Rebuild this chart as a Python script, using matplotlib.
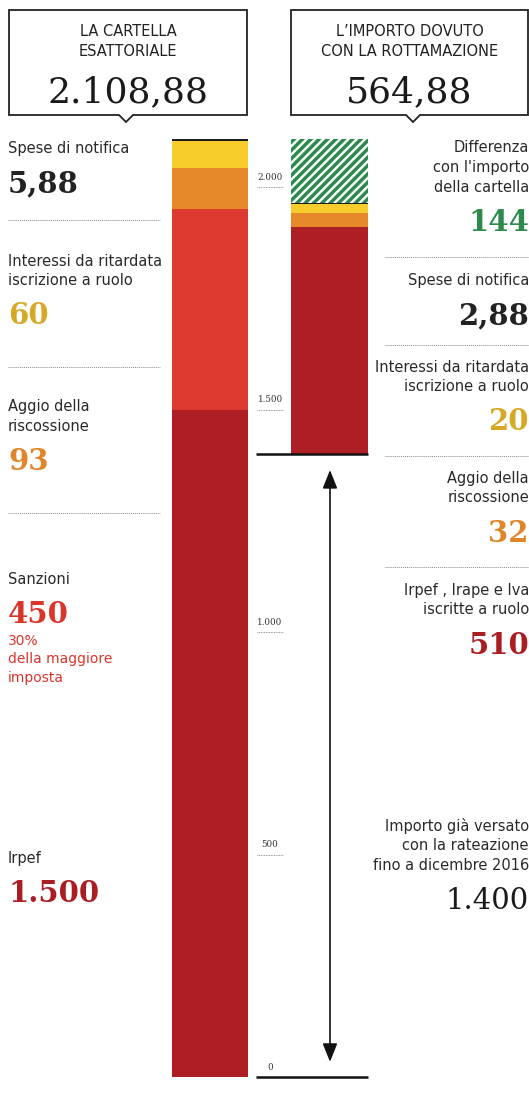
import matplotlib.pyplot as plt
from matplotlib.patches import Polygon

# La cartella esattoriale (dal basso verso l'alto)
cartella_labels = ["Irpef", "Sanzioni", "Aggio della\nriscossione",
                   "Interessi da ritardata\niscrizione a ruolo", "Spese di notifica"]
cartella_values = [1500, 450, 93, 60, 5.88]

# Rottamazione: importo gia versato + voci residue (dal basso verso l'alto)
gia_versato = 1400
rottamazione_labels = ["Irpef , Irape e Iva\niscritte a ruolo", "Aggio della\nriscossione",
                       "Interessi da ritardata\niscrizione a ruolo", "Spese di notifica"]
rottamazione_values = [510, 32, 20, 2.88]

tick_values = [0, 500, 1000, 1500, 2000]

seg_colors = ["#ad1f25", "#dc3a2e", "#e5892b", "#f8cd2b", "#1c1c1c"]
text_colors = ["#a91d23", "#d9352b", "#e0862a", "#d6a826", "#222222"]
green = "#2b8a4c"

totale_cartella = sum(cartella_values)
totale_rottamazione = sum(rottamazione_values)
differenza = totale_cartella - gia_versato - totale_rottamazione


def fmt_it(v):
    v = round(v, 2)
    if float(v).is_integer():
        return f"{int(v):,}".replace(",", ".")
    return f"{v:,.2f}".replace(",", "X").replace(".", ",").replace("X", ".")


SANS = ["DejaVu Sans"]
SERIF = ["DejaVu Serif"]
plt.rcParams["hatch.linewidth"] = 2.5

W, H = 529, 1097
fig = plt.figure(figsize=(W / 100, H / 100), dpi=100)

# bar area: zero at y=1077px, 0.445 px per euro
base_px = 1077
px_per_unit = 0.445
ax = fig.add_axes([150 / W, (H - base_px) / H, 240 / W, totale_cartella * px_per_unit / H])
ax.set_xlim(-0.502, 1.506)
ax.set_ylim(0, totale_cartella)
ax.axis("off")

bar_w = 0.64
bottom = 0
for v, c in zip(cartella_values, seg_colors):
    ax.bar(0, v, bottom=bottom, width=bar_w, color=c, linewidth=0)
    bottom += v

bottom = gia_versato
for v, c in zip(rottamazione_values, seg_colors[:1] + seg_colors[2:]):
    ax.bar(1, v, bottom=bottom, width=bar_w, color=c, linewidth=0)
    bottom += v
ax.bar(1, differenza, bottom=bottom, width=bar_w, color="white",
       edgecolor=green, hatch="////", linewidth=0)

# baselines under the right bar
ax.hlines([0, gia_versato], 0.385, 1 + bar_w / 2, color="#111111", lw=1.8, clip_on=False)

# scale labels with small dotted marks
for t in tick_values:
    ax.text(0.502, t + 22, fmt_it(t), ha="center", va="center",
            fontsize=6.3, family=SERIF, color="#333333")
    if t > 0:
        ax.hlines(t, 0.39, 0.61, color="#777777", lw=0.6, linestyles=(0, (1, 1)))

# double arrow for the amount already paid
ax.annotate("", xy=(1.004, 34), xytext=(1.004, 1364),
            arrowprops=dict(arrowstyle="<|-|>,head_length=0.8,head_width=0.32",
                            color="#111111", lw=1.2, mutation_scale=14,
                            shrinkA=0, shrinkB=0))

# overlay in pixel coordinates for text and headers
ov = fig.add_axes([0, 0, 1, 1])
ov.set_xlim(0, W)
ov.set_ylim(H, 0)
ov.axis("off")


def header(x0, x1, notch, lines, value):
    pts = [(x0, 10), (x1, 10), (x1, 115), (notch + 7, 115), (notch, 122),
           (notch - 7, 115), (x0, 115)]
    ov.add_patch(Polygon(pts, closed=True, fill=False, edgecolor="#222222", lw=1.3))
    cx = (x0 + x1) / 2
    for i, line in enumerate(lines):
        ov.text(cx, 32 + i * 20, line, ha="center", va="center",
                fontsize=10.5, family=SANS, color="#222222")
    ov.text(cx, 102, value, ha="center", va="baseline",
            fontsize=26, family=SERIF, color="#1a1a1a")


header(9, 247, 126, ["LA CARTELLA", "ESATTORIALE"], fmt_it(totale_cartella))
header(291, 528, 413, ["L\u2019IMPORTO DOVUTO", "CON LA ROTTAMAZIONE"],
       fmt_it(totale_rottamazione))


def block(x, ha, label_y, label, value, color, bold=True, gap=33):
    lines = label.split("\n")
    for i, line in enumerate(lines):
        ov.text(x, label_y + i * 19.5, line, ha=ha, va="center",
                fontsize=10.5, family=SANS, color="#2a2a2a")
    num_y = label_y + (len(lines) - 1) * 19.5 + gap
    ov.text(x, num_y + 11, value, ha=ha, va="baseline", fontsize=21,
            family=SERIF, color=color, fontweight="bold" if bold else "normal")
    return num_y


def sep(x0, x1, y):
    ov.plot([x0, x1], [y, y], color="#888888", lw=0.7, linestyle=(0, (1, 1)))


# left column, top to bottom
left_y = [858, 579, 407, 261, 148]
for lab, v, c, y in zip(cartella_labels, cartella_values, text_colors, left_y):
    block(8, "left", y, lab, fmt_it(v), c)
for y in [220, 367, 513]:
    sep(8, 160, y)
for i, line in enumerate(["30%", "della maggiore", "imposta"]):
    ov.text(8, 641 + i * 18.5, line, ha="left", va="center",
            fontsize=10, family=SANS, color=text_colors[1])

# right column, top to bottom
rx = 529
block(rx, "right", 148, "Differenza\ncon l'importo\ndella cartella", fmt_it(differenza), green)
right_y = [590, 478, 367, 280]
right_colors = [text_colors[0]] + text_colors[2:]
for lab, v, c, y in zip(rottamazione_labels, rottamazione_values, right_colors, right_y):
    block(rx, "right", y, lab, fmt_it(v), c)
for y in [257, 345, 456, 567]:
    sep(385, 529, y)
block(rx, "right", 826, "Importo già versato\ncon la rateazione\nfino a dicembre 2016",
      fmt_it(gia_versato), "#1a1a1a", bold=False)

fig.savefig("out.png", dpi=100, facecolor="white")
